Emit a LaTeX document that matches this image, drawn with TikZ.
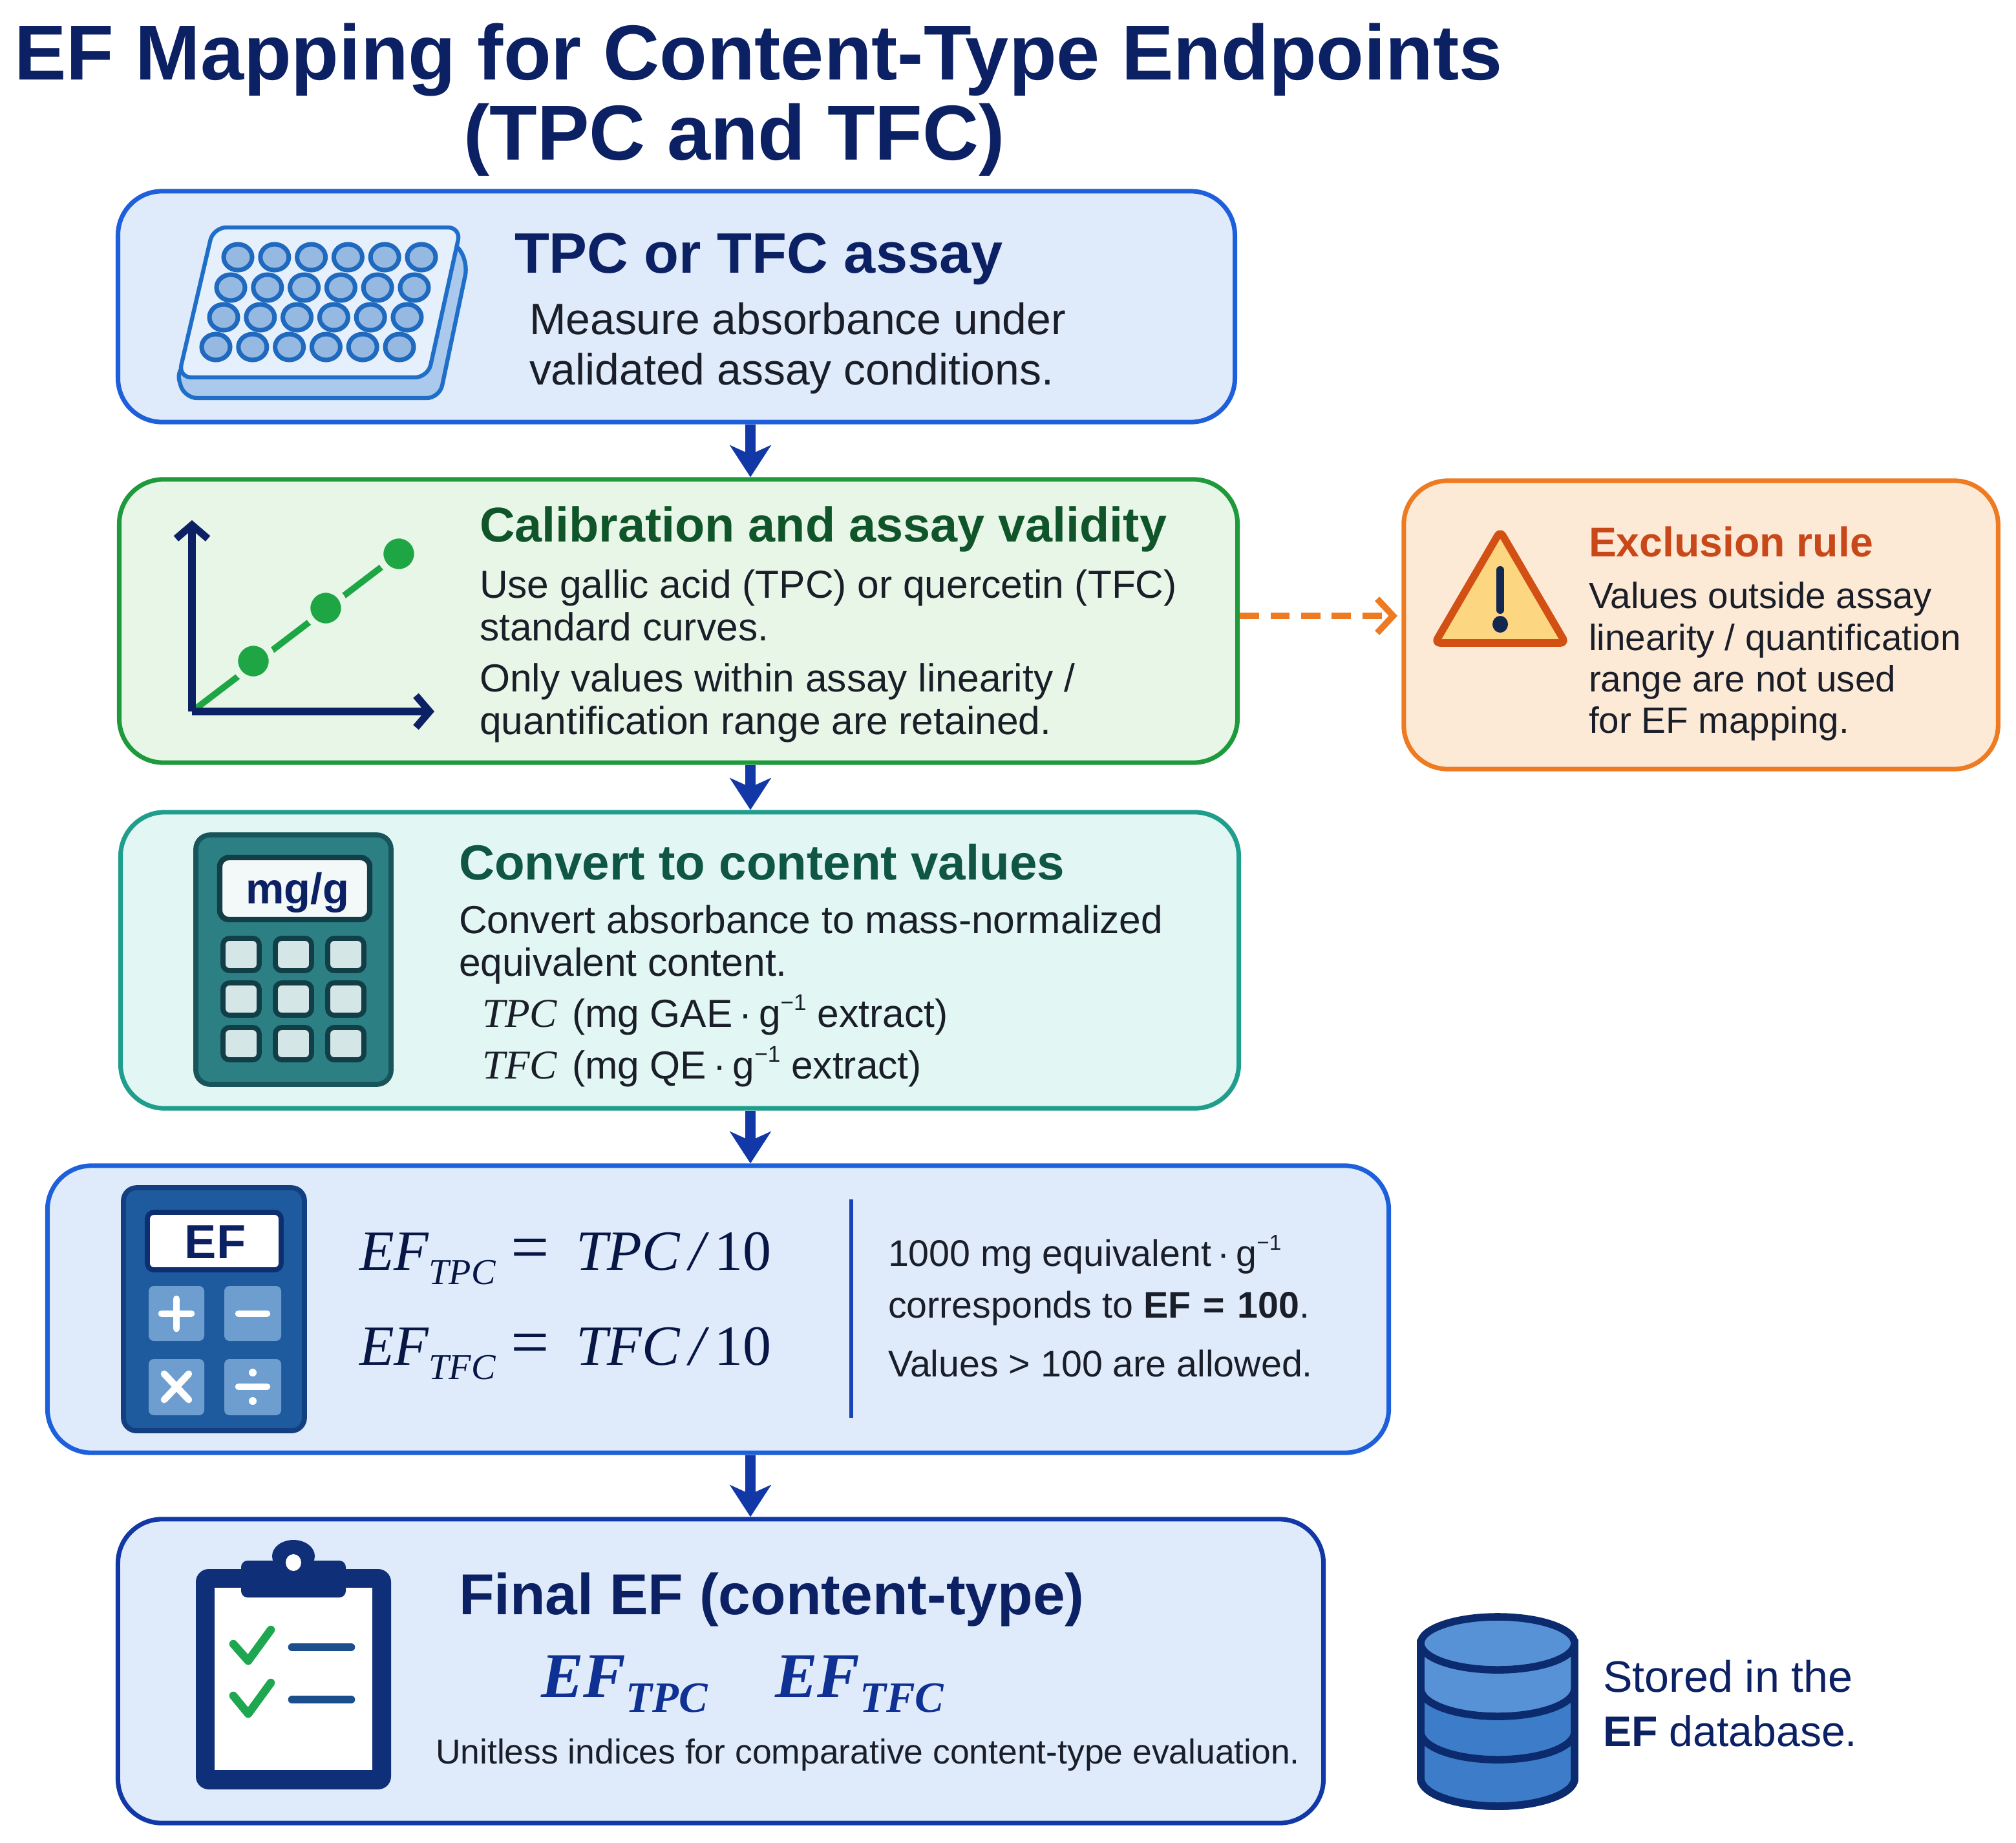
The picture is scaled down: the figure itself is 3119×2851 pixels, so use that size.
\documentclass[tikz,border=0pt]{standalone}
\usepackage{fontspec}
\usetikzlibrary{arrows.meta,calc}
\setmainfont{Liberation Sans}
\newfontfamily\mth{Liberation Serif}
\newcommand\ft[1]{\fontsize{#1}{#1}\selectfont}
\definecolor{navy}{HTML}{0C2064}
\definecolor{ink}{HTML}{1A1E28}
\definecolor{gtitle}{HTML}{10552A}
\definecolor{ttitle}{HTML}{0F5645}
\definecolor{otitle}{HTML}{C8481A}
\definecolor{bfill}{HTML}{DFEBFB}
\definecolor{bline}{HTML}{1E5FDB}
\definecolor{gfill}{HTML}{E8F6E8}
\definecolor{gline}{HTML}{1E9A3C}
\definecolor{tfill}{HTML}{E2F6F3}
\definecolor{tline}{HTML}{1F9E8E}
\definecolor{ofill}{HTML}{FDEAD6}
\definecolor{oline}{HTML}{EE7A22}
\definecolor{darr}{HTML}{1238A8}
\definecolor{dbl}{HTML}{0F2F78}
\definecolor{plateln}{HTML}{1F6FC8}
\definecolor{plateside}{HTML}{AAC9EC}
\definecolor{platetop}{HTML}{E5F0FC}
\definecolor{wellf}{HTML}{96B9E2}
\definecolor{welld}{HTML}{1F69BE}
\definecolor{keyf}{HTML}{D4E6E6}
\definecolor{keyd}{HTML}{123F47}
\definecolor{keyb}{HTML}{6E9ECF}
\definecolor{cyld}{HTML}{0C2A6E}
\definecolor{cyla}{HTML}{3C7CC8}
\definecolor{cylb}{HTML}{5892D6}
\definecolor{grn}{HTML}{1EA644}
\definecolor{chk}{HTML}{1EA650}
\definecolor{trid}{HTML}{D25014}
\definecolor{trif}{HTML}{FDD682}
\definecolor{exd}{HTML}{122850}
\definecolor{calca}{HTML}{2C7F83}
\definecolor{calcb}{HTML}{17555A}
\definecolor{scr}{HTML}{F3F8F8}
\definecolor{calcc}{HTML}{1E5A9E}
\definecolor{calcd}{HTML}{123F80}
\definecolor{scrd}{HTML}{0E2F6F}
\definecolor{clipl}{HTML}{1A4F8C}
\tikzset{
  x=0.01cm,y=-0.01cm,
  panel/.style={rounded corners=0.68cm,line width=2pt,inner sep=0pt},
  txt/.style={anchor=base west,inner sep=0pt,outer sep=0pt,text=ink},
  h1/.style={txt,text=navy,font=\bfseries\ft{34.3}},
  h2/.style={txt,font=\bfseries\ft{25.1}},
  body/.style={txt,font=\ft{19.3}},
  bodyb/.style={txt,font=\ft{17.2}},
  bodyx/.style={txt,font=\ft{16.1}},
  eqn/.style={txt,text=navy!70!black,font=\mth\itshape\ft{25}},
  flow/.style={draw=darr,line width=4.5pt,-{Stealth[length=14pt,width=18pt,inset=4pt]}},
  side/.style={draw=oline,line width=2.8pt,dash pattern=on 8.5pt off 5pt,-{Straight Barb[length=7pt,width=15pt,line width=2.8pt]}},
  plate/.style={draw=plateln,line width=1.8pt,line join=round},
  well/.style={fill=wellf,draw=welld,line width=2pt},
  axis/.style={draw=navy,line width=3.2pt,-{Straight Barb[length=6pt,width=14pt,line width=3.2pt]}},
  keyone/.style={rounded corners=0.1cm,fill=keyf,draw=keyd,line width=2.2pt},
  keytwo/.style={rounded corners=0.08cm,fill=keyb},
  sym/.style={draw=white,line width=3pt,line cap=round},
  cyl/.style={draw=cyld,line width=3.3pt}
}
\begin{document}
\begin{tikzpicture}
\useasboundingbox[fill=white] (0,0) rectangle (3119,2851);
% title
\node[h1] (t1) at (22,123) {EF Mapping for Content-Type Endpoints};
\node[h1,anchor=base] (t2) at (1136,247) {(TPC and TFC)};
% panels
\node[panel,draw=bline,fill=bfill,minimum width=17.27cm,minimum height=3.57cm] (b1) at (1046.5,474.5) {};
\node[panel,draw=gline,fill=gfill,minimum width=17.29cm,minimum height=4.38cm] (b2) at (1049.5,961) {};
\node[panel,draw=tline,fill=tfill,minimum width=17.29cm,minimum height=4.58cm] (b3) at (1051.5,1486) {};
\node[panel,draw=bline,fill=bfill,minimum width=20.74cm,minimum height=4.44cm] (b4) at (1111,2026) {};
\node[panel,draw=darr,fill=bfill,minimum width=18.64cm,minimum height=4.70cm] (b5) at (1115,2586) {};
\node[panel,draw=oline,fill=ofill,minimum width=9.19cm,minimum height=4.46cm] (ex) at (2631.5,967) {};
% connectors
\coordinate (ax) at (1161,0);
\coordinate (dy) at (0,953);
\coordinate (dtip) at (2162,953);
\draw[flow] (b1.south -| ax) -- (b2.north -| ax);
\draw[flow] (b2.south -| ax) -- (b3.north -| ax);
\draw[flow] (b3.south -| ax) -- (b4.north -| ax);
\draw[flow] (b4.south -| ax) -- (b5.north -| ax);
\draw[side] (b2.east |- dy) -- (dtip);
% plate icon
\draw[plate,fill=plateside,rounded corners=0.2cm] (700,370) -- (724,406) -- (680,616) -- (285,616) -- (272,570) -- cycle;
\draw[plate,fill=platetop,rounded corners=0.2cm] (330,352) -- (713,352) -- (662,584) -- (276,584) -- cycle;
\foreach \r/\y/\x in {0/398/368,1/445/357,2/491/346,3/537/334}{
  \foreach \c in {0,...,5}{
    \draw[well] ({\x+\c*56.8},\y) ellipse [x radius=0.22cm,y radius=0.2cm];
  }
}
% box 1 text
\node[h2,text=navy] (b1t) at (796,422) {TPC or TFC assay};
\node[body] (b1a) at (819,517) {Measure absorbance under};
\node[body] (b1b) at (819,595) {validated assay conditions.};
% graph icon
\coordinate (go) at (297,1101);
\coordinate (gy) at (297,805);
\coordinate (gx) at (672,1101);
\coordinate (gp1) at (392,1023);
\coordinate (gp2) at (504,941);
\coordinate (gp3) at (617,857);
\draw[draw=grn,line width=2.8pt] (go) -- (gp3);
\foreach \p in {gp1,gp2,gp3}{
  \draw[fill=grn,draw=gfill,line width=3pt] (\p) circle [radius=0.29cm];
}
\draw[axis] (go) -- (gy);
\draw[axis] (go) -- (gx);
% box 2 text
\node[h2,text=gtitle,font=\bfseries\ft{21.5}] (b2t) at (742,838) {Calibration and assay validity};
\node[bodyb] (b2a) at (742,925) {Use gallic acid (TPC) or quercetin (TFC)};
\node[bodyb] (b2b) at (742,991) {standard curves.};
\node[bodyb] (b2c) at (742,1070) {Only values within assay linearity /};
\node[bodyb] (b2d) at (742,1136) {quantification range are retained.};
% exclusion
\draw[draw=trid,fill=trif,line width=3.3pt,line join=round,rounded corners=0.08cm] (2321,822) -- (2422,995) -- (2220,995) -- cycle;
\draw[draw=exd,line width=3.4pt,line cap=round] (2321,882) -- (2321,944);
\fill[exd] (2321,966) ellipse [x radius=0.12cm,y radius=0.13cm];
\node[txt,text=otitle,font=\bfseries\ft{18.3}] (ext) at (2458,861) {Exclusion rule};
\node[bodyx] (exa) at (2458,941) {Values outside assay};
\node[bodyx] (exb) at (2458,1006) {linearity / quantification};
\node[bodyx] (exc) at (2458,1070) {range are not used};
\node[bodyx] (exe) at (2458,1134) {for EF mapping.};
% calculator 1
\draw[rounded corners=0.22cm,fill=calca,draw=calcb,line width=2.2pt] (303,1292) rectangle (605,1678);
\draw[rounded corners=0.14cm,fill=scr,draw=keyd,line width=2.4pt] (340,1327) rectangle (572,1423);
\node[txt,anchor=base,text=navy,font=\bfseries\ft{19}] (cm) at (460,1398) {mg/g};
\foreach \y in {1477,1546,1615}{
  \foreach \x in {373,454,535}{
    \draw[keyone] (\x-28,\y-25) rectangle (\x+28,\y+25);
  }
}
% box 3 text
\node[h2,text=ttitle,font=\bfseries\ft{21.7}] (b3t) at (710,1361) {Convert to content values};
\node[bodyb] (b3a) at (710,1444) {Convert absorbance to mass-normalized};
\node[bodyb] (b3b) at (710,1510) {equivalent content.};
\node[txt,font=\mth\itshape\ft{18}] (b3c) at (746,1589) {TPC};
\node[bodyb] (b3d) at (885,1589) {(mg GAE\,·\,g\raisebox{.42em}{\ft{10}−1} extract)};
\node[txt,font=\mth\itshape\ft{18}] (b3e) at (746,1669) {TFC};
\node[bodyb] (b3f) at (885,1669) {(mg QE\,·\,g\raisebox{.42em}{\ft{10}−1} extract)};
% calculator 2
\draw[rounded corners=0.2cm,fill=calcc,draw=calcd,line width=2.2pt] (191,1838) rectangle (471,2214);
\draw[rounded corners=0.1cm,fill=white,draw=scrd,line width=2.2pt] (228,1876) rectangle (435,1965);
\node[txt,anchor=base,text=navy,font=\bfseries\ft{21}] (ce) at (333,1947) {EF};
\fill[keytwo] (230,1990) rectangle (316,2075);
\fill[keytwo] (347,1990) rectangle (435,2075);
\fill[keytwo] (230,2103) rectangle (316,2190);
\fill[keytwo] (347,2103) rectangle (435,2190);
\draw[sym] (273,2010) -- (273,2056) (250,2033) -- (296,2033);
\draw[sym] (369,2033) -- (413,2033);
\draw[sym] (254,2126) -- (292,2166) (292,2126) -- (254,2166);
\draw[sym] (369,2146) -- (413,2146);
\fill[white] (391,2124) circle [radius=0.06cm] (391,2168) circle [radius=0.06cm];
% equations
\node[eqn] (e1a) at (556,1965) {EF\raisebox{-.26em}{\ft{16}TPC}};
\node[eqn,font=\mth\ft{30}] (e1b) at (790,1965) {=};
\node[eqn] (e1c) at (891,1965) {TPC\,/\,{\upshape 10}};
\node[eqn] (e2a) at (556,2112) {EF\raisebox{-.26em}{\ft{16}TFC}};
\node[eqn,font=\mth\ft{30}] (e2b) at (790,2112) {=};
\node[eqn] (e2c) at (891,2112) {TFC\,/\,{\upshape 10}};
\coordinate (dva) at (1317,1856);
\coordinate (dvb) at (1317,2194);
\draw[draw=darr!70!bline,line width=1.6pt] (dva) -- (dvb);
\node[txt,font=\ft{16.3}] (r1) at (1374,1959) {1000 mg equivalent\,·\,g\raisebox{.42em}{\ft{9.5}−1}};
\node[txt,font=\ft{16.3}] (r2) at (1374,2039) {corresponds to \textbf{EF\hspace{.06em} =\hspace{.06em} 100}.};
\node[txt,font=\ft{16.3}] (r3) at (1374,2130) {Values > 100 are allowed.};
% clipboard
\fill[dbl,rounded corners=0.2cm] (303,2428) rectangle (605,2769);
\fill[white] (332,2457) rectangle (576,2739);
\fill[dbl,rounded corners=0.1cm] (373,2415) rectangle (535,2472);
\fill[dbl] (454,2408) ellipse [x radius=0.33cm,y radius=0.25cm];
\fill[white] (454,2418) ellipse [x radius=0.12cm,y radius=0.13cm];
\draw[draw=chk,line width=3.6pt,line join=round,line cap=round] (361,2544) -- (384,2570) -- (419,2522);
\draw[draw=chk,line width=3.6pt,line join=round,line cap=round] (361,2624) -- (384,2652) -- (419,2604);
\draw[draw=clipl,line width=3.6pt,line cap=round] (452,2549) -- (543,2549);
\draw[draw=clipl,line width=3.6pt,line cap=round] (452,2630) -- (543,2630);
% box 5 text
\node[h2,text=navy,font=\bfseries\ft{25.4}] (b5t) at (710,2498) {Final EF (content-type)};
\node[eqn,font=\mth\itshape\bfseries\ft{28},text=darr!70!navy] (b5a) at (837,2626) {EF\raisebox{-.24em}{\ft{19}TPC}};
\node[eqn,font=\mth\itshape\bfseries\ft{28},text=darr!70!navy] (b5b) at (1199,2626) {EF\raisebox{-.24em}{\ft{19}TFC}};
\node[txt,font=\ft{15.2}] (b5c) at (674,2729) {Unitless indices for comparative content-type evaluation.};
% database
\draw[cyl,fill=cyla] (2198,2543) -- (2198,2752) arc[start angle=180,end angle=360,x radius=1.19cm,y radius=0.43cm] -- (2436,2543) -- cycle;
\fill[cylb] (2198,2543) -- (2198,2613) arc[start angle=180,end angle=360,x radius=1.19cm,y radius=0.43cm] -- (2436,2543) -- cycle;
\draw[cyl] (2198,2543) -- (2198,2752) arc[start angle=180,end angle=360,x radius=1.19cm,y radius=0.43cm] -- (2436,2543);
\draw[cyl] (2198,2613) arc[start angle=180,end angle=360,x radius=1.19cm,y radius=0.43cm];
\draw[cyl] (2198,2680) arc[start angle=180,end angle=360,x radius=1.19cm,y radius=0.43cm];
\draw[cyl,fill=cylb] (2317,2543) ellipse [x radius=1.19cm,y radius=0.41cm];
\node[txt,text=navy,font=\ft{19.4}] (st1) at (2480,2618) {Stored in the};
\node[txt,text=navy,font=\ft{18.8}] (st2) at (2480,2702) {\textbf{EF} database.};
\end{tikzpicture}
\end{document}
